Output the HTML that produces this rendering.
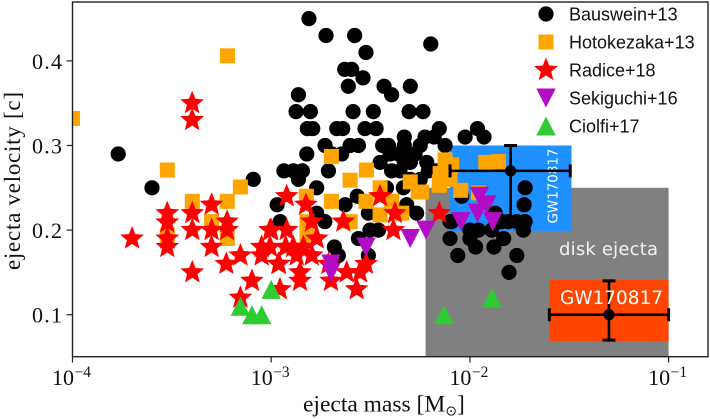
<!DOCTYPE html>
<html>
<head>
<meta charset="utf-8">
<style>
html,body{margin:0;padding:0;background:#fff;width:710px;height:419px;overflow:hidden}
svg{display:block}
</style>
</head>
<body>
<svg id="chart" width="710" height="419" viewBox="0 0 710 419" xmlns="http://www.w3.org/2000/svg">
<defs><clipPath id="plot-clip"><rect x="72.5" y="2" width="635.5" height="354.7"/></clipPath></defs>
<g id="plot" clip-path="url(#plot-clip)"></g>
<g id="axes"></g>
<g id="legend"></g>
</svg>
<script>
const xTickExponents = [-4, -3, -2, -1];
const yTickValues = [0.1, 0.2, 0.3, 0.4];
const yTickLabels = ["0.1", "0.2", "0.3", "0.4"];
const legendLabels = ["Bauswein+13", "Hotokezaka+13", "Radice+18", "Sekiguchi+16", "Ciolfi+17"];

const bausweinLogMass = [-2.81,-2.724,-2.58,-2.523,-2.197,-2.63,-2.595,-2.538,-2.612,-2.432,-2.30,-2.863,-2.394,
 -2.875,-2.803,-2.588,-2.486,-2.306,-2.236,
 -2.818,-2.791,-2.67,-2.64,-2.528,-2.472,-2.154,-1.962,
 -2.33,-2.226,-2.18,-2.024,-1.929,
 -2.729,-2.603,-2.561,-2.439,-2.41,-2.33,-2.25,-2.125,
 -3.77,-2.821,-2.695,-2.645,-2.402,-2.36,-2.318,-2.276,
 -2.452,-2.33,-2.30,-2.217,
 -2.936,-2.889,-2.843,-2.712,-2.394,-2.352,-2.209,-2.167,
 -3.09,-2.863,-2.30,-2.25,
 -3.60,-2.771,-2.42,-2.335,-1.722,
 -2.567,-2.041,
 -2.97,-2.628,-2.318,-1.727,
 -2.771,-2.511,-2.268,-1.873,
 -2.955,-2.73,-2.10,-1.806,-1.764,-1.722,-1.84,-2.092,
 -2.503,-2.46,-2.0,-1.957,-1.89,-1.731,
 -2.561,-2.10,-2.0,-1.83,
 -2.682,-1.971,-1.879,
 -2.662,-2.511,-2.061,-1.764,
 -1.803];
const bausweinVelocity = [.45,.43,.43,.41,.42,.39,.39,.38,.37,.37,.37,.36,.36,
 .34,.34,.34,.34,.34,.34,
 .32,.32,.32,.32,.32,.32,.32,.32,
 .31,.31,.31,.31,.31,
 .30,.30,.30,.30,.30,.30,.30,.30,
 .29,.29,.29,.29,.29,.29,.29,.29,
 .28,.28,.28,.28,
 .27,.27,.27,.27,.27,.27,.27,.27,
 .26,.26,.26,.26,
 .25,.25,.25,.25,.25,
 .24,.24,
 .23,.23,.23,.23,
 .22,.22,.22,.22,
 .21,.21,.21,.21,.21,.21,.21,.21,
 .20,.20,.20,.20,.20,.20,
 .19,.19,.19,.19,
 .18,.18,.18,
 .17,.17,.17,.17,
 .15];

const hotokezakaLogMass = [-3.22,-4,-3.523,-3.155,-3.397,-3.221,-3.30,-3.523,-3.221,
 -2.697,-2.521,-2.603,-2.30,-2.125,-2.092,-2.15,
 -2.823,-2.697,-2.523,-2.452,-2.452,-2.602,-2.82,-2.82,-2.394,-2.343,-2.26,-2.154,-2.154,
 -2.046,-2.10,-2.097,-1.957,-1.92,-1.857,-2.243];
const hotokezakaVelocity = [.406,.332,.271,.251,.234,.234,.21,.194,.19,
 .287,.271,.259,.257,.283,.277,.267,
 .24,.234,.234,.25,.218,.21,.21,.192,.234,.22,.245,.257,.253,
 .247,.26,.275,.244,.28,.281,.245];

const radiceLogMass = [-3.398,-3.398,-3.523,-3.523,-3.523,-3.523,-3.70,-3.397,-3.397,-3.397,
 -3.30,-3.30,-3.30,-3.222,-3.222,-3.226,-3.155,-3.097,-3.155,-3.0,-3.048,-3.048,-2.964,
 -2.922,-2.825,-2.796,-2.771,-2.922,-3.006,-2.927,-2.872,-2.796,-2.961,-2.855,-2.855,-2.956,
 -2.699,-2.712,-2.62,-2.553,-2.523,-2.57,-2.637,-2.452,-2.377,-2.385,-2.154,-3.006,-2.889,-2.838];
const radiceVelocity = [.35,.33,.22,.209,.19,.18,.19,.22,.20,.15,
 .23,.20,.18,.21,.20,.16,.17,.14,.12,.20,.18,.17,.16,
 .24,.23,.21,.19,.20,.20,.18,.17,.17,.16,.15,.14,.13,
 .14,.16,.15,.15,.16,.13,.21,.24,.22,.20,.22,.18,.18,.18];

const sekiguchiLogMass = [-1.952,-1.915,-1.962,-2.045,-1.885,-2.221,-2.30,-2.523,-2.699,-2.699];
const sekiguchiVelocity = [.24,.23,.22,.21,.21,.20,.19,.18,.16,.15];

const ciolfiLogMass = [-3.155,-3.097,-3.048,-3.0,-2.13,-1.889];
const ciolfiVelocity = [.11,.10,.10,.13,.10,.12];

const diskRegionLogMass = [-2.223, -1];
const diskRegionVelocity = [0.05, 0.25];
const blueRegionLogMass = [-2.1, -1.489];
const blueRegionVelocity = [0.199, 0.3];
const redRegionLogMass = [-1.6, -1];
const redRegionVelocity = [0.069, 0.141];
const blueEventPoint = [-1.795, 0.27];
const blueEventMassRange = [-2.1, -1.495];
const blueEventVelocityRange = [0.21, 0.30];
const redEventPoint = [-1.3, 0.10];
const redEventMassRange = [-1.6, -1];
const redEventVelocityRange = [0.07, 0.14];

const NS = 'http://www.w3.org/2000/svg';
const plot = document.getElementById('plot');
const axes = document.getElementById('axes');
const legend = document.getElementById('legend');
function xScale(m){ return 72.5 + (m + 4) * 198.7; }
function yScale(v){ return 314.7 - (v - 0.1) * 846; }
function make(tag, parent, attrs){
  const el = document.createElementNS(NS, tag);
  for (const k in attrs) el.setAttribute(k, attrs[k]);
  parent.appendChild(el);
  return el;
}
function starPoints(cx, cy, R){
  const pts = [];
  for (let i = 0; i < 10; i++){
    const r = i % 2 ? R * 0.44 : R;
    const a = -Math.PI / 2 + i * Math.PI / 5;
    pts.push((cx + r * Math.cos(a)).toFixed(2) + ',' + (cy + r * Math.sin(a)).toFixed(2));
  }
  return pts.join(' ');
}
function drawMarker(parent, kind, cx, cy){
  let el;
  if (kind === 'circle') el = make('circle', parent, {cx: cx, cy: cy, r: 7.6, fill: '#000'});
  if (kind === 'square') el = make('rect', parent, {x: cx - 7.5, y: cy - 7.5, width: 15, height: 15, fill: '#FFA500'});
  if (kind === 'star') el = make('polygon', parent, {points: starPoints(cx, cy, 12.5), fill: '#FF0000'});
  if (kind === 'down') el = make('polygon', parent, {points: (cx-9.7)+','+(cy-9.5)+' '+(cx+9.7)+','+(cy-9.5)+' '+cx+','+(cy+9.5), fill: '#B20CC4'});
  if (kind === 'up') el = make('polygon', parent, {points: (cx-9.7)+','+(cy+9.5)+' '+(cx+9.7)+','+(cy+9.5)+' '+cx+','+(cy-9.5), fill: '#2ECC31'});
  return el;
}
function drawRegion(name, color, ms, vs){
  const el = make('rect', plot, {x: xScale(ms[0]), y: yScale(vs[1]), width: xScale(ms[1]) - xScale(ms[0]), height: yScale(vs[0]) - yScale(vs[1]), fill: color});
  
  
}
function drawSeries(name, kind, ms, vs){
  const g = make('g', plot, {});
  
  
  ms.forEach(function(m, i){
    const el = drawMarker(g, kind, xScale(m), yScale(vs[i]));
    
    
  });
}
function drawError(name, pt, mr, vr){
  const g = make('g', plot, {stroke: '#000', 'stroke-width': 2.6, fill: 'none'});
  
  
  const cx = xScale(pt[0]), cy = yScale(pt[1]);
  const x0 = xScale(mr[0]), x1 = xScale(mr[1]), y0 = yScale(vr[0]), y1 = yScale(vr[1]);
  make('line', g, {x1: x0, y1: cy, x2: x1, y2: cy});
  make('line', g, {x1: cx, y1: y0, x2: cx, y2: y1});
  make('line', g, {x1: x0, y1: cy - 6.5, x2: x0, y2: cy + 6.5, 'stroke-width': 3});
  make('line', g, {x1: x1, y1: cy - 6.5, x2: x1, y2: cy + 6.5, 'stroke-width': 3});
  make('line', g, {x1: cx - 6.5, y1: y0, x2: cx + 6.5, y2: y0, 'stroke-width': 3});
  make('line', g, {x1: cx - 6.5, y1: y1, x2: cx + 6.5, y2: y1, 'stroke-width': 3});
  make('circle', g, {cx: cx, cy: cy, r: 5.6, fill: '#000', stroke: 'none'});
}

drawRegion('disk-ejecta-region', '#808080', diskRegionLogMass, diskRegionVelocity);
drawRegion('gw170817-blue-region', '#1E90FF', blueRegionLogMass, blueRegionVelocity);
drawRegion('gw170817-red-region', '#FF4500', redRegionLogMass, redRegionVelocity);

const sansFont = '"DejaVu Sans", sans-serif';
const diskText = make('text', plot, {x: 559, y: 255, fill: '#f2f2f2', 'font-family': sansFont, 'font-size': 18, textLength: 99});
diskText.textContent = 'disk ejecta';


const blueText = make('text', plot, {transform: 'translate(557.5,223.5) rotate(-90)', fill: '#fff', 'font-family': sansFont, 'font-size': 13.5, textLength: 75});
blueText.textContent = 'GW170817';



drawSeries('bauswein-series', 'circle', bausweinLogMass, bausweinVelocity);
drawSeries('hotokezaka-series', 'square', hotokezakaLogMass, hotokezakaVelocity);
drawError('gw170817-blue-errorbar', blueEventPoint, blueEventMassRange, blueEventVelocityRange);
drawError('gw170817-red-errorbar', redEventPoint, redEventMassRange, redEventVelocityRange);
const redText = make('text', plot, {x: 560, y: 304, fill: '#fff', 'font-family': sansFont, 'font-size': 18.5, textLength: 103});
redText.textContent = 'GW170817';


drawSeries('radice-series', 'star', radiceLogMass, radiceVelocity);
drawSeries('sekiguchi-series', 'down', sekiguchiLogMass, sekiguchiVelocity);
drawSeries('ciolfi-series', 'up', ciolfiLogMass, ciolfiVelocity);

const frame = make('rect', axes, {x: 72.5, y: 2, width: 635.5, height: 354.7, fill: 'none', stroke: '#222', 'stroke-width': 1.4});


const serif = '"Liberation Serif", serif';
xTickExponents.forEach(function(e){
  const x = xScale(e);
  const t = make('line', axes, {x1: x, y1: 356.7, x2: x, y2: 362.5, stroke: '#222', 'stroke-width': 1.2});
  
  
  const l = make('text', axes, {x: x - 20.5, y: 385, 'font-family': serif, 'font-size': 22, fill: '#111'});
  
  
  const base = make('tspan', l, {});
  base.textContent = '10';
  const sup = make('tspan', l, {dy: -8, 'font-size': 15.5, dx: 0.5});
  sup.textContent = '\u2212' + Math.abs(e);
});
yTickValues.forEach(function(v, i){
  const y = yScale(v);
  const t = make('line', axes, {x1: 66.7, y1: y, x2: 72.5, y2: y, stroke: '#222', 'stroke-width': 1.2});
  
  
  const l = make('text', axes, {x: 32, y: y + 8, 'font-family': serif, 'font-size': 22, fill: '#111', textLength: 30});
  l.textContent = yTickLabels[i];
  
  
});
const xTitle = make('text', axes, {x: 303, y: 411.5, 'font-family': serif, 'font-size': 23.5, fill: '#111'});


make('tspan', xTitle, {}).textContent = 'ejecta mass [M';
make('tspan', xTitle, {dy: 4, 'font-size': 14, 'font-family': '"DejaVu Sans", sans-serif'}).textContent = '\u2299';
make('tspan', xTitle, {dy: -4}).textContent = ']';
const yTitle = make('text', axes, {transform: 'translate(20,270) rotate(-90)', 'font-family': serif, 'font-size': 23, fill: '#111', textLength: 178});
yTitle.textContent = 'ejecta velocity [c]';



const legendKinds = ['circle', 'square', 'star', 'down', 'up'];
legendLabels.forEach(function(label, i){
  const y = 14 + 28 * i;
  const g = make('g', legend, {});
  
  
  drawMarker(g, legendKinds[i], 546, y);
  const t = make('text', g, {x: 569, y: y + 6.5, 'font-family': '"Liberation Sans", sans-serif', 'font-size': 18, fill: '#111'});
  t.textContent = label;
});
</script>
</body>
</html>
